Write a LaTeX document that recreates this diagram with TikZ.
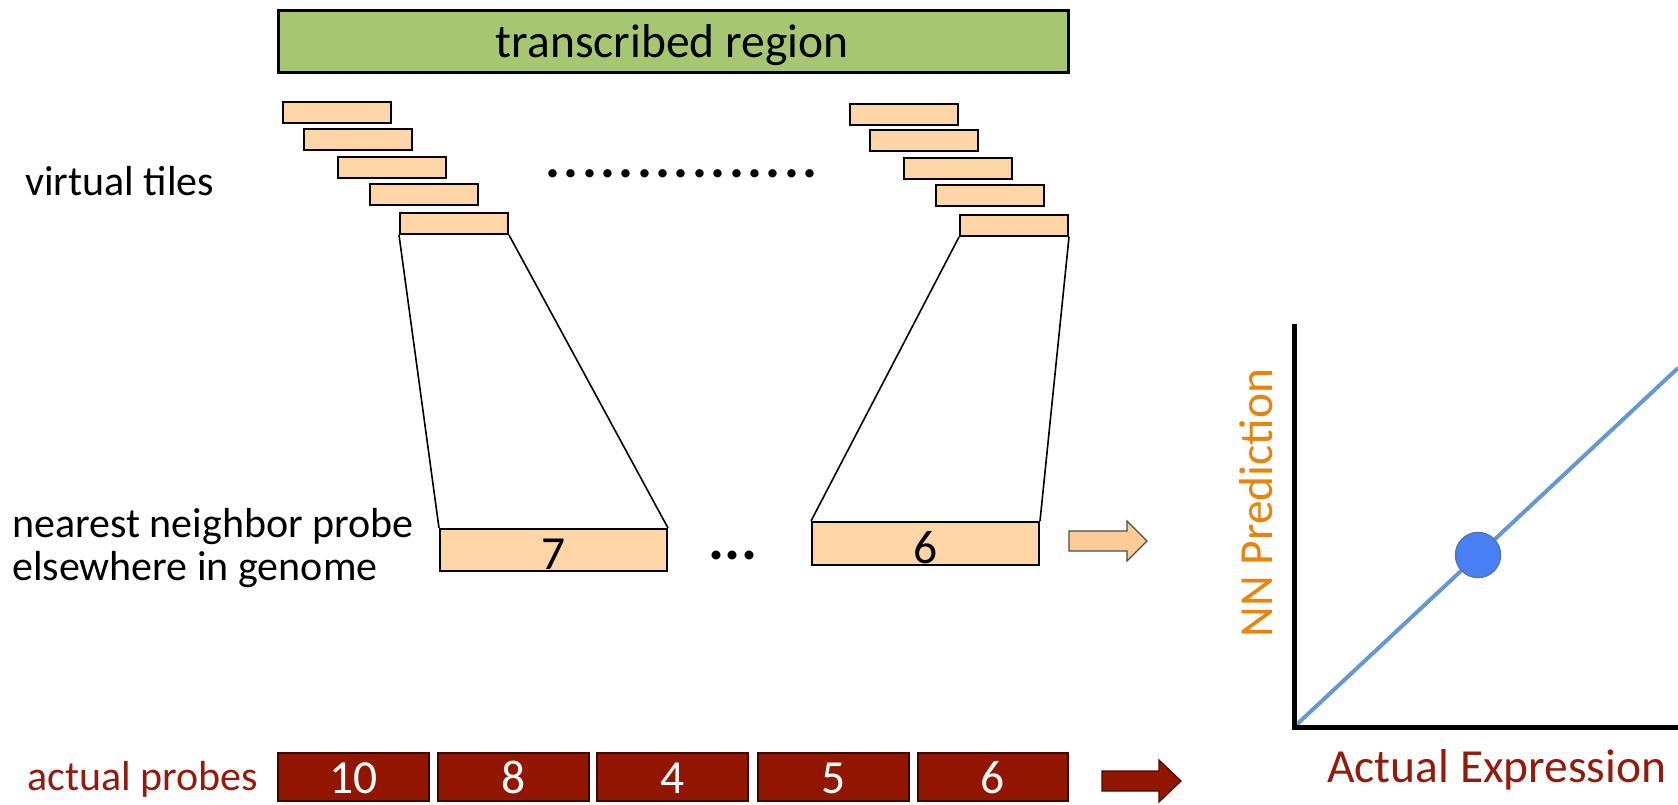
\documentclass[tikz,border=0pt]{standalone}
\usepackage{fontspec}
\setmainfont{Carlito}
\definecolor{regiongreen}{HTML}{A6C771}
\definecolor{tilefill}{HTML}{FDD5A7}
\definecolor{probered}{HTML}{921600}
\definecolor{labelred}{HTML}{961A0C}
\definecolor{nnorange}{HTML}{E8830C}
\definecolor{fitblue}{HTML}{6399CF}
\definecolor{dotblue}{HTML}{4A80F5}
\newcommand\dd{.\kern3.4pt}
\begin{document}
\begin{tikzpicture}[x=1pt,y=-1pt,
  tilebox/.style={draw=black, fill=tilefill, line width=2pt, minimum width=108pt, minimum height=21pt, inner sep=0pt, anchor=north west},
  nnbox/.style={draw=black, fill=tilefill, line width=2pt, minimum width=227pt, minimum height=42pt, inner sep=0pt, anchor=north west},
  probebox/.style={draw=black!60!probered, fill=probered, line width=1.5pt, minimum width=151pt, minimum height=48pt, inner sep=0pt, anchor=north west},
  lbl/.style={font=\fontsize{42}{50}\selectfont, inner sep=0pt},
  big/.style={font=\fontsize{47.5}{56}\selectfont, inner sep=0pt},
  link/.style={draw=black, line width=1.6pt},
  blockarrow/.style={line width=1.2pt, line join=miter}]
\useasboundingbox (0,0) rectangle (1678,804);

% transcribed region
\node[draw=black, fill=regiongreen, line width=2.5pt, minimum width=790pt, minimum height=62pt, inner sep=0pt, anchor=north west] (region) at (277,9) {};
\node[big, anchor=base] (regiontxt) at (672,57) {transcribed region};

% left tiles
\node[tilebox] (lt1) at (282,101) {};
\node[tilebox] (lt2) at (303,128) {};
\node[tilebox] (lt3) at (337,156) {};
\node[tilebox] (lt4) at (369,183) {};
\node[tilebox] (lt5) at (399,212) {};
% right tiles
\node[tilebox] (rt1) at (849,103) {};
\node[tilebox] (rt2) at (869,129) {};
\node[tilebox] (rt3) at (903,157) {};
\node[tilebox] (rt4) at (935,184) {};
\node[tilebox] (rt5) at (959,214) {};

\node[inner sep=0pt, font=\bfseries\fontsize{56}{60}\selectfont, anchor=base] (dots) at (681.5,177) {\dd\dd\dd\dd\dd\dd\dd\dd\dd\dd\dd\dd\dd\dd.};
\node[lbl, anchor=base west] (vt) at (25,195) {virtual tiles};

% nearest-neighbour probes
\node[nnbox] (b7) at (439,528) {};
\node[nnbox, minimum height=43pt] (b6) at (811,521) {};
\node[big, anchor=base] (t7) at ([yshift=3pt]b7.south) {7};
\node[big, anchor=base] (t6) at ([yshift=3pt]b6.south) {6};
\node[inner sep=0pt, font=\bfseries\fontsize{60}{60}\selectfont, anchor=base] (ell) at (733,559) {...};

\draw[link] (lt5.south west) -- (b7.north west);
\draw[link] (lt5.south east) -- (b7.north east);
\draw[link] (rt5.south west) -- (b6.north west);
\draw[link] (rt5.south east) -- (b6.north east);

\node[lbl, anchor=base west] (nn1) at (12,537) {nearest neighbor probe};
\node[lbl, anchor=base west] (nn2) at (12,580) {elsewhere in genome};

% light block arrow
\draw[blockarrow, draw=black!70, fill=tilefill!90!orange]
  (1069,531) -- (1127,531) -- (1127,521) -- (1147,541) -- (1127,561) -- (1127,551) -- (1069,551) -- cycle;

% actual probes
\node[probebox] (p1) at (277,752) {};
\node[probebox] (p2) at (437,752) {};
\node[probebox] (p3) at (596,752) {};
\node[probebox] (p4) at (757,752) {};
\node[probebox, minimum width=150pt] (p5) at (917,752) {};
\node[big, white, anchor=base] (n1) at ([yshift=8pt]p1.south) {10};
\node[big, white, anchor=base] (n2) at ([yshift=8pt]p2.south) {8};
\node[big, white, anchor=base] (n3) at ([yshift=8pt]p3.south) {4};
\node[big, white, anchor=base] (n4) at ([yshift=8pt]p4.south) {5};
\node[big, white, anchor=base] (n5) at ([yshift=8pt]p5.south) {6};
\node[lbl, labelred, anchor=base west] (ap) at (27,790) {actual probes};

% dark block arrow
\draw[blockarrow, draw=black!50!probered, fill=probered]
  (1102,771) -- (1159,771) -- (1159,760) -- (1181,781) -- (1159,802) -- (1159,791) -- (1102,791) -- cycle;

% plot
\coordinate (O) at (1294,727);
\coordinate (Ytop) at (1294,324);
\coordinate (Xend) at (1680,727);
\coordinate (Fend) at (1678,368);
\draw[fitblue, line width=4pt] (O) -- (Fend);
\draw[black, line width=5pt, line join=miter] (Ytop) -- (O) -- (Xend);
\node[circle, draw=fitblue!80!black, line width=1.5pt, fill=dotblue, minimum size=45pt, inner sep=0pt] (pt) at (1478,555) {};
\node[big, nnorange, rotate=90, anchor=base] (ylab) at (1272,503) {NN Prediction};
\node[big, labelred, anchor=base west] (xlab) at (1327,782) {Actual Expression};
\end{tikzpicture}
\end{document}
